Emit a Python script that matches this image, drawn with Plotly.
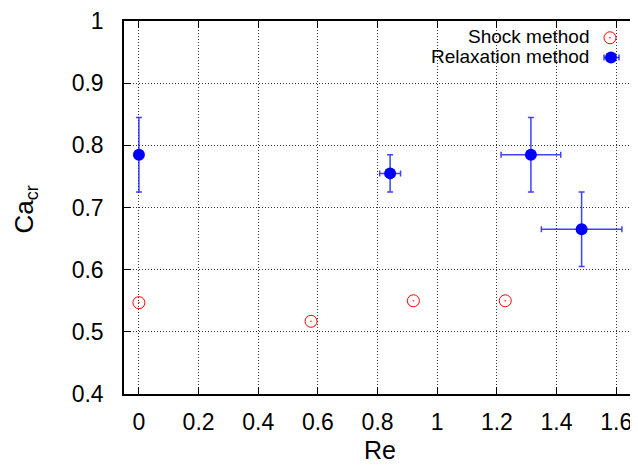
import plotly.graph_objects as go

# Data
shock_re = [0.0, 0.577, 0.92, 1.228]
shock_ca = [0.547, 0.517, 0.55, 0.55]

relax_re = [0.0, 0.842, 1.314, 1.484]
relax_ca = [0.785, 0.755, 0.785, 0.665]
relax_re_err = [0.0, 0.035, 0.10, 0.135]
relax_ca_err = [0.06, 0.03, 0.06, 0.06]

x_ticks = [0, 0.2, 0.4, 0.6, 0.8, 1.0, 1.2, 1.4, 1.6]
x_ticklabels = ["0", "0.2", "0.4", "0.6", "0.8", "1", "1.2", "1.4", "1.6"]
y_ticks = [0.4, 0.5, 0.6, 0.7, 0.8, 0.9, 1.0]
y_ticklabels = ["0.4", "0.5", "0.6", "0.7", "0.8", "0.9", "1"]

FONT = "Liberation Sans, Arial, Helvetica, sans-serif"
BLUE = "#0000ff"
RED = "#ff0000"
ERR = "rgba(0,0,255,0.75)"

# page body has an 8px margin; figure sized to fill the rest of the window
OFF = 8
W, H = 638 - OFF, 467 - OFF
# plot area in screen pixels
plot_l, plot_r, plot_t, plot_b = 124, 638, 16, 394

fig = go.Figure()

fig.add_trace(go.Scatter(
    x=shock_re, y=shock_ca, mode="markers", name="Shock method",
    marker=dict(symbol="circle-open-dot", size=12, color=RED, line=dict(width=1, color=RED)),
    showlegend=False,
))

fig.add_trace(go.Scatter(
    x=relax_re, y=relax_ca, mode="markers", name="Relaxation method",
    marker=dict(symbol="circle", size=12, color=BLUE),
    error_x=dict(type="data", array=relax_re_err, color=ERR, thickness=1.5, width=3),
    error_y=dict(type="data", array=relax_ca_err, color=ERR, thickness=1.5, width=3),
    showlegend=False,
))

axis_common = dict(
    showline=True, linecolor="black", linewidth=1.5,
    ticks="inside", ticklen=7, tickcolor="black", tickwidth=1,
    showgrid=True, gridcolor="#333333", gridwidth=1, griddash="1px,2px",
    zeroline=False, ticklabeloverflow="allow",
    tickfont=dict(family=FONT, size=23, color="black"),
)

fig.update_xaxes(
    range=[-0.05, 1.673], tickvals=x_ticks, ticktext=x_ticklabels,
    mirror="ticks", ticklabelstandoff=7,
    **axis_common,
)
fig.update_yaxes(
    range=[0.4, 1.0002], tickvals=y_ticks, ticktext=y_ticklabels,
    ticklabelstandoff=14,
    **axis_common,
)

def px_x(px):
    return (px - plot_l) / (plot_r - plot_l)
def px_y(py):
    return (plot_b - py) / (plot_b - plot_t)

# Axis titles
fig.add_annotation(
    x=px_x(380), y=px_y(451), xref="paper", yref="paper", text="Re",
    showarrow=False, xanchor="center", yanchor="middle",
    font=dict(family=FONT, size=25, color="black"), borderpad=0,
)
fig.add_annotation(
    x=px_x(25), y=px_y(207), xref="paper", yref="paper", text="Ca<sub>cr</sub>",
    showarrow=False, xanchor="center", yanchor="middle", textangle=-90,
    font=dict(family=FONT, size=26, color="black"), borderpad=0,
)

# Legend (gnuplot style: text right-aligned, key to the right)
legend_items = [("Shock method", 32), ("Relaxation method", 52)]
for text, ypix in legend_items:
    fig.add_annotation(
        x=px_x(590), y=px_y(ypix), xref="paper", yref="paper",
        text=text, showarrow=False, xanchor="right", yanchor="middle",
        font=dict(family=FONT, size=19, color="black"), borderpad=0,
    )

shapes = []
rx, ry = px_x(610), px_y(33)
shapes.append(dict(type="circle", xref="paper", yref="paper", xsizemode="pixel", ysizemode="pixel",
                   xanchor=rx, yanchor=ry, x0=-6, x1=6, y0=-6, y1=6,
                   line=dict(color=RED, width=1)))
shapes.append(dict(type="circle", xref="paper", yref="paper", xsizemode="pixel", ysizemode="pixel",
                   xanchor=rx, yanchor=ry, x0=-0.8, x1=0.8, y0=-0.8, y1=0.8,
                   line=dict(color=RED, width=0), fillcolor=RED))
bx, by = px_x(611), px_y(53)
shapes.append(dict(type="line", xref="paper", yref="paper", xsizemode="pixel", ysizemode="pixel",
                   xanchor=bx, yanchor=by, x0=-7, x1=8, y0=0, y1=0,
                   line=dict(color=ERR, width=1.5)))
for cx in (-7, 8):
    shapes.append(dict(type="line", xref="paper", yref="paper", xsizemode="pixel", ysizemode="pixel",
                       xanchor=bx, yanchor=by, x0=cx, x1=cx, y0=-3, y1=3,
                       line=dict(color=ERR, width=1.5)))
shapes.append(dict(type="circle", xref="paper", yref="paper", xsizemode="pixel", ysizemode="pixel",
                   xanchor=bx, yanchor=by, x0=-6, x1=6, y0=-6, y1=6,
                   line=dict(color=BLUE, width=0), fillcolor=BLUE))

fig.update_layout(
    width=W, height=H,
    margin=dict(l=plot_l - OFF, r=W - (plot_r - OFF), t=plot_t - OFF, b=H - (plot_b - OFF), pad=0),
    paper_bgcolor="white", plot_bgcolor="white",
    showlegend=False,
    shapes=shapes,
    font=dict(family=FONT, color="black"),
)

fig.write_html("out.html")
